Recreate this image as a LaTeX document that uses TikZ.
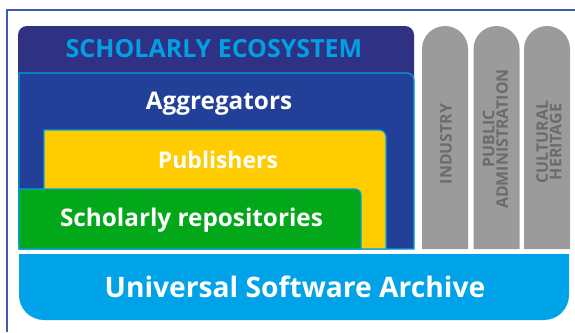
\documentclass[tikz,border=0pt]{standalone}
\usepackage{fontspec}
\setmainfont{Open Sans}
\definecolor{navy}{RGB}{46,49,132}
\definecolor{aggblue}{RGB}{35,64,152}
\definecolor{lblue}{RGB}{0,160,227}
\definecolor{pubyellow}{RGB}{255,204,0}
\definecolor{repgreen}{RGB}{2,167,26}
\definecolor{archblue}{RGB}{0,162,232}
\definecolor{pillargray}{RGB}{155,155,155}
\definecolor{pillartext}{RGB}{107,107,107}
\definecolor{framecol}{RGB}{62,92,172}
\tikzset{
  layer/.style={draw=lblue, line width=1.2bp},
  bigtext/.style={text=white, anchor=base, inner sep=0pt},
  pillarlabel/.style={text=pillartext, font=\fontsize{15.9bp}{13.5bp}\selectfont\bfseries, rotate=90, align=center, inner sep=0pt}
}
\begin{document}
\begin{tikzpicture}[x=1bp,y=1bp]
\useasboundingbox (0,0) rectangle (575,332);
% frame
\coordinate (fb) at (7,0);
\coordinate (ftl) at (7,322);
\coordinate (fr) at (575,322);
\draw[framecol, line width=1.5bp] (fb) -- (ftl) -- (fr);
% scholarly ecosystem
\fill[navy, rounded corners=9bp] (18,83) rectangle (414,306);
\node[text=lblue, font=\fontsize{25bp}{28bp}\selectfont\bfseries, anchor=base, inner sep=0pt] (eco) at (214,275) {SCHOLARLY ECOSYSTEM};
% aggregators
\filldraw[layer, fill=aggblue] (19,83) -- (19,259) -- (407,259) arc[start angle=90,end angle=0,radius=7] -- (414,83) -- cycle;
\node[bigtext, font=\fontsize{24.3bp}{28bp}\selectfont\bfseries] (agg) at (219,223) {Aggregators};
% publishers
\filldraw[layer, fill=pubyellow] (44,83) -- (44,202) -- (379,202) arc[start angle=90,end angle=0,radius=7] -- (386,83) -- cycle;
\node[bigtext, font=\fontsize{23bp}{28bp}\selectfont\bfseries] (pub) at (218,164) {Publishers};
% repositories
\filldraw[layer, fill=repgreen] (19,83) -- (19,143) -- (355,143) arc[start angle=90,end angle=0,radius=6] -- (361,83) -- cycle;
\node[bigtext, font=\fontsize{24.3bp}{28bp}\selectfont\bfseries] (rep) at (191.5,105.5) {Scholarly repositories};
% archive
\fill[archblue] (19,78) -- (19,37) arc[start angle=180,end angle=270,radius=25] -- (544,12) arc[start angle=270,end angle=360,radius=25] -- (569,78) -- cycle;
\node[bigtext, font=\fontsize{28.2bp}{32bp}\selectfont\bfseries] (arch) at (295,35) {Universal Software Archive};
% pillars
\fill[pillargray] (422,83) -- (422,283) arc[start angle=180,end angle=0,radius=23] -- (468,83) -- cycle;
\fill[pillargray] (473.5,83) -- (473.5,283) arc[start angle=180,end angle=0,radius=23] -- (519.5,83) -- cycle;
\fill[pillargray] (524,83) -- (524,283) arc[start angle=180,end angle=0,radius=23] -- (570,83) -- cycle;
\node[pillarlabel] (ind) at (446,188) {INDUSTRY};
\node[pillarlabel] (pa) at (495.5,193) {PUBLIC\\ADMINISTRATION};
\node[pillarlabel] (ch) at (549,190) {CULTURAL\\HERITAGE};
\end{tikzpicture}
\end{document}
